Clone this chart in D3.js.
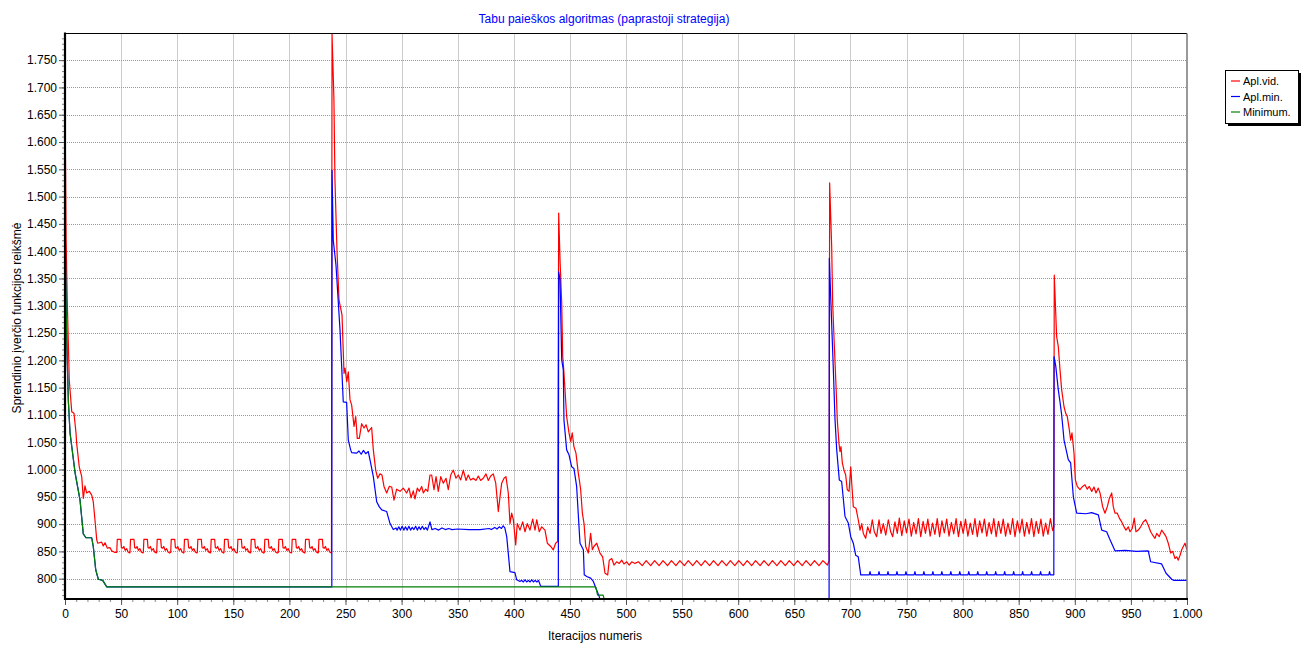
<!DOCTYPE html>
<html><head><meta charset="utf-8">
<script src="https://cdn.jsdelivr.net/npm/d3@7"></script>
<style>body{margin:0;background:#fff}svg{display:block}text{font-family:"Liberation Sans",Arial,sans-serif}</style>
</head><body><svg id="c" width="1305" height="646"></svg>
<script>
const title = "Tabu paieškos algoritmas (paprastoji strategija)";
const xLabel = "Iteracijos numeris";
const yLabel = "Sprendinio įverčio funkcijos reikšmė";
const seriesNames = ["Apl.vid.", "Apl.min.", "Minimum."];
const xTickValues = [0,50,100,150,200,250,300,350,400,450,500,550,600,650,700,750,800,850,900,950,1000];
const yTickValues = [800,850,900,950,1000,1050,1100,1150,1200,1250,1300,1350,1400,1450,1500,1550,1600,1650,1700,1750];

// Minimum.
const greenData = [[0,1450],[1,1300],[2,1200],[3,1125],[4.5,1067],[9,994],[13.4,944],[16.3,882],[18.7,875],[23.8,875],[25.2,859],[27.4,816],[29.7,799],[33.6,797],[37.2,785],[473,785],[474.7,770],[479.6,770],[482,752],[1000,752]];

// Apl.min.
const blue1 = [[0,1450],[1,1300],[2,1200],[3,1125],[4.5,1067],[9,994],[13.4,944],[16.3,882],[18.7,875],[23.8,875],[25.2,859],[27.4,816],[29.7,799],[33.6,797],[37.2,785],[237.8,785]];
const blue2 = [[238,1548],[239.1,1420],[241.5,1375],[245.1,1256],[246.6,1189],[248,1124],[251,1123],[252.5,1054],[254.6,1036],[255.5,1031],[260,1030],[262,1034],[264,1028],[266,1035],[268,1029],[270.3,1033],[271.8,1018],[274.8,987],[277.8,941],[280,932],[282.3,926],[286.7,923],[289.7,901],[292.6,890],[295,893],[296,889],[297.5,895],[299,889],[300.5,896],[302,889],[303.5,895],[305,889],[306.5,896],[308,889],[309.5,894],[311,890],[312.5,896],[314,889],[315.5,895],[317,890],[318.5,896],[320,890],[321.5,894],[323,889],[325.3,904],[327,890],[330,892],[333,889],[336,893],[339,890],[342,892],[345,890],[350,891],[360,890],[370,890],[378,892],[380,890],[383,894],[385,891],[387,895],[389,892],[390.5,897],[392,893],[393.7,877],[396.6,813],[401,811],[402.6,798],[405.5,795],[407,797],[408.5,794],[410,798],[411.5,794],[413,797],[414.5,794],[416,798],[417.5,794],[419,797],[420.5,794],[422,797],[424,786],[439.7,786]];
const blue3 = [[440,1362],[441.2,1348],[442.7,1201],[444.1,1183],[444.7,1091],[447.1,1036],[449.2,1027],[451.6,1005],[453.6,1002],[456,969],[459,865],[462,853],[462.8,807],[465,804],[468.5,801],[470.9,795],[473.3,782],[476,768],[478,755],[681,755]];
const blue4 = [[681.2,1387],[683.3,1268],[684.8,1183],[686.3,1091],[687.8,1036],[690.1,981],[692.2,978],[695.2,914],[698.1,902],[700.3,877],[702.6,865],[704.7,843],[707,840],[709.2,807],
[716.8,807],[717.5,813],[718.2,807],[724.8,807],[725.5,813],[726.2,807],[732.8,807],[733.5,813],[734.2,807],[740.8,807],[741.5,813],[742.2,807],[748.8,807],[749.5,813],[750.2,807],[756.8,807],[757.5,813],[758.2,807],[764.8,807],[765.5,813],[766.2,807],[772.8,807],[773.5,813],[774.2,807],[780.8,807],[781.5,813],[782.2,807],[788.8,807],[789.5,813],[790.2,807],[796.8,807],[797.5,813],[798.2,807],[804.8,807],[805.5,813],[806.2,807],[812.8,807],[813.5,813],[814.2,807],[820.8,807],[821.5,813],[822.2,807],[828.8,807],[829.5,813],[830.2,807],[836.8,807],[837.5,813],[838.2,807],[844.8,807],[845.5,813],[846.2,807],[852.8,807],[853.5,813],[854.2,807],[860.8,807],[861.5,813],[862.2,807],[868.8,807],[869.5,813],[870.2,807],[876.8,807],[877.5,813],[878.2,807],[881.3,807]];
const blue5 = [[881.5,1207],[883,1190],[885.3,1146],[886.8,1124],[888.3,1100],[890.4,1054],[894.2,1018],[896.3,1012],[898.7,950],[901.7,920],[910,919],[915,921],[921,917],[924,889],[928.4,886],[930.8,874],[935.8,851],[945,852],[955,850],[965.5,851],[967.6,831],[977.4,827],[981.3,810],[986.4,799],[988,797],[1000,797]];

// Apl.vid.
const red1 = [[0,1660],[0.5,1550],[1,1420],[2,1310],[3,1230],[3.8,1164],[6,1106],[8,1103],[9.8,1067],[10.4,1048],[12.7,1005],[14.9,987],[16.3,947],[17.8,970],[19.3,957],[21.7,960],[23.8,953],[25.2,941],[26.7,908],[28.3,871],[29.1,865],[32.7,867],[34.1,860],[35.7,866],[37.7,856],[40.1,857],[41.6,851],[44.6,848]];
const red2 = [
[46.1,848],[46.6,872],[49.7,872],[50.3,857],[51.5,856],[52.4,859],[53.6,852],[55,855],[56.2,849],[57.7,847],
[57.9,848],[58.4,872],[61.5,872],[62.1,857],[63.3,856],[64.2,859],[65.4,852],[66.8,855],[68,849],[69.5,847],
[69.8,848],[70.3,872],[73.4,872],[74,857],[75.2,856],[76.1,859],[77.3,852],[78.7,855],[79.9,849],[81.4,847],
[81.7,848],[82.2,872],[85.3,872],[85.9,857],[87.1,856],[88,859],[89.2,852],[90.6,855],[91.8,849],[93.3,847],
[94.2,848],[94.7,872],[97.8,872],[98.4,857],[99.6,856],[100.5,859],[101.7,852],[103.1,855],[104.3,849],[105.8,847],
[106,848],[106.5,872],[109.6,872],[110.2,857],[111.4,856],[112.3,859],[113.5,852],[114.9,855],[116.1,849],[117.6,847],
[117.9,848],[118.4,872],[121.5,872],[122.1,857],[123.3,856],[124.2,859],[125.4,852],[126.8,855],[128,849],[129.5,847],
[129.8,848],[130.3,872],[133.4,872],[134,857],[135.2,856],[136.1,859],[137.3,852],[138.7,855],[139.9,849],[141.4,847],
[141.7,848],[142.2,872],[145.3,872],[145.9,857],[147.1,856],[148,859],[149.2,852],[150.6,855],[151.8,849],[153.3,847],
[153.6,848],[154.1,872],[157.2,872],[157.8,857],[159,856],[159.9,859],[161.1,852],[162.5,855],[163.7,849],[165.2,847],
[165.5,848],[166,872],[169.1,872],[169.7,857],[170.9,856],[171.8,859],[173,852],[174.4,855],[175.6,849],[177.1,847],
[177.6,848],[178.1,872],[181.2,872],[181.8,857],[183,856],[183.9,859],[185.1,852],[186.5,855],[187.7,849],[189.2,847],
[190.1,848],[190.6,872],[193.7,872],[194.3,857],[195.5,856],[196.4,859],[197.6,852],[199,855],[200.2,849],[201.7,847],
[202,848],[202.5,872],[205.6,872],[206.2,857],[207.4,856],[208.3,859],[209.5,852],[210.9,855],[212.1,849],[213.6,847],
[213.9,848],[214.4,872],[217.5,872],[218.1,857],[219.3,856],[220.2,859],[221.4,852],[222.8,855],[224,849],[225.5,847],
[225.8,848],[226.3,872],[229.4,872],[230,857],[231.2,856],[232.1,859],[233.3,852],[234.7,855],[235.9,849],[237.5,847]];
const red3 = [[238,1798],[239.7,1677],[240.6,1530],[242.4,1402],[244.2,1311],[246.9,1283],[247.8,1228],[248.7,1176],[249.6,1186],[251.1,1161],[252.5,1179],[254,1128],[255.5,1118],[257.6,1079],[259.1,1097],[260.5,1057],[262.3,1057],[264.4,1084],[266.5,1076],[268.3,1082],[270.3,1069],[271.8,1073],[273.3,1077],[274.8,1036],[276.9,999],[278.7,984],[280.7,992],[282.5,990],[284.3,969],[286.7,957],[289,969],[291.2,968],[293.2,944],[295.6,964],[298.6,960],[301.5,966],[304.5,957],[306.6,966],[308.4,948],[310.4,961],[311.9,946],[314,966],[315.8,960],[317.9,969],[319.4,957],[321.5,964],[323.3,960],[325.3,990],[326.8,990],[328.9,963],[330.7,987],[332.7,960],[334.9,987],[337.2,975],[339.6,984],[341.6,963],[343.8,990],[346.1,999],[348.5,984],[350.5,990],[352.7,981],[355,999],[357.4,980],[359.4,990],[361.5,981],[363.9,984],[366.3,980],[368.4,988],[370.5,980],[372.8,984],[375.2,992],[377.3,980],[379.4,988],[381.7,992],[383.9,975],[386.2,923],[387.7,950],[389.2,975],[391.3,984],[393,987],[395.1,957],[396.6,901],[398.1,920],[399.6,908],[401.7,862],[403.1,901],[405.5,889],[407.9,904],[410,886],[412,901],[414.4,889],[416.8,909],[418.9,889],[420.4,908],[422.7,886],[424.9,895],[427.8,889],[429.9,865],[432.9,859],[435.2,853],[437.3,865],[439.1,868]];
const red4 = [[440,1470],[441.2,1384],[442.7,1305],[443.6,1207],[444.7,1177],[447.1,1097],[449.2,1067],[450.7,1051],[452.1,1067],[453.6,1042],[455.4,1030],[457.5,993],[458.4,981],[459.6,963],[461.1,920],[462.6,901],[464.1,859],[466.4,847],[468.5,883],[470,853],[471.4,859],[473.9,865],[476.8,847],[479.2,840],[481.3,810],[483.7,807],[485.1,834],[487.3,837],[489.3,825],[491.7,831],[494,828],[496.2,834],[498.2,827],[500.6,831],[502.9,825],[505.1,831],[508,828],[511,831],
[514.5,824],[518,833],[522,824],[525.5,833],[529.5,824],[533,833],[537,824],[540.5,833],[544.5,824],[548,833],[552,824],[555.5,833],[559.5,824],[563,833],[567,824],[570.5,833],[574.5,824],[578,833],[582,824],[585.5,833],[589.5,824],[593,833],[597,824],[600.5,833],[604.5,824],[608,833],[612,824],[615.5,833],[619.5,824],[623,833],[627,824],[630.5,833],[634.5,824],[638,833],[642,824],[645.5,833],[649.5,824],[653,833],[657,824],[660.5,833],[664.5,824],[668,833],[672,824],[675.5,833],[679.5,825],[681,833]];
const red5 = [[681.5,1525],[683.3,1409],[684.2,1305],[685.6,1231],[687.2,1152],[688.3,1091],[689.8,1048],[690.7,1033],[691.6,1042],[692.8,1012],[694.3,999],[695.8,990],[697.2,963],[698.8,960],[700.3,1005],[701.2,975],[702.6,932],[705,929],[707,908],[708.6,889],[710.1,901],[711.5,883],[713.6,874],[715.4,895],[717.5,883],[719.5,908],[721.3,886],[723.4,877],[725.5,908],[727.3,883],[729.3,901],[731.5,880],[733.8,908],[735.9,886],[737.7,877],[739.7,904],[741.8,883],[743.6,911],
[745.8,879],[748,906],[750,884],[752.2,909],[754.3,878],[756.4,903],[758.5,882],[760.6,910],[762.7,877],[764.8,905],[766.9,883],[769,909],[771.1,878],[773.2,902],[775.3,881],[777.4,910],[779.5,877],[781.6,906],[783.7,884],[785.8,909],[787.9,878],[790,903],[792.1,882],[794.2,910],[796.3,877],[798.4,905],[800.5,883],[802.6,909],[804.7,878],[806.8,902],[808.9,881],[811,910],[813.1,877],[815.2,906],[817.3,884],[819.4,909],[821.5,878],[823.6,903],[825.7,882],[827.8,910],[829.9,877],[832,905],[834.1,883],[836.2,909],[838.3,878],[840.4,902],[842.5,881],[844.6,910],[846.7,877],[848.8,906],[850.9,884],[853,909],[855.1,878],[857.2,903],[859.3,882],[861.4,910],[863.5,877],[865.6,905],[867.7,883],[869.8,909],[871.9,878],[874,902],[876.1,881],[878.2,910],[880.3,888],[881.3,895]];
const red6 = [[881.7,1356],[883.8,1244],[885.3,1225],[886.8,1183],[888.3,1146],[890.4,1115],[891.9,1103],[893.3,1097],[895.1,1073],[896.3,1054],[897.5,1067],[899.3,1030],[900.5,981],[902.2,969],[904.6,963],[907,969],[909.1,972],[911.1,964],[912.9,969],[915.1,960],[917.1,968],[918.9,957],[920.9,966],[922.5,957],[924.8,932],[926.9,920],[929,932],[930.8,947],[932.9,957],[934.3,932],[935.8,920],[937.9,920],[939.7,911],[941.8,904],[943.9,895],[945.6,889],[947.7,895],[949.2,886],[951.2,892],[953,911],[954.5,886],[956.6,889],[958.7,895],[961,904],[963.2,908],[965.5,898],[967.6,886],[969.4,880],[971.5,874],[973,883],[975.3,877],[977.4,889],[979.5,883],[981.3,877],[983.3,865],[985.5,847],[987.3,850],[989.3,837],[990.8,840],[992.2,834],[993.8,843],[995.3,853],[996.7,859],[998.2,865],[1000,853]];

const redData = [].concat(red1, red2, red3, red4, red5, red6);
const blueData = [].concat(blue1, blue2, blue3, blue4, blue5);

const colors = ["#ff0000", "#0000ff", "#008000"];

const svg = d3.select("#c");
const L = 65, R = 1187, T = 33.5, B = 599;
const x = d3.scaleLinear().domain([0, 1000]).range([L, R]);
const y = d3.scaleLinear().domain([762.8, 1798.8]).range([B, T]);

const loc = d3.formatLocale({decimal: ",", thousands: ".", grouping: [3], currency: ["", ""]});
const fmt = loc.format(",d");

svg.append("rect").attr("width", 1305).attr("height", 646).attr("fill", "#fff");

// grid
const grid = svg.append("g").attr("stroke", "#999").attr("stroke-width", 1).attr("stroke-dasharray", "1,1");
grid.selectAll(".gx").data(xTickValues.filter(v => v > 0 && v < 1000)).enter().append("line")
  .attr("x1", d => Math.round(x(d)) + 0.5).attr("x2", d => Math.round(x(d)) + 0.5).attr("y1", T).attr("y2", B);
grid.selectAll(".gy").data(yTickValues).enter().append("line")
  .attr("y1", d => Math.round(y(d)) + 0.5).attr("y2", d => Math.round(y(d)) + 0.5).attr("x1", L).attr("x2", R);

// clip
svg.append("clipPath").attr("id", "clip").append("rect").attr("x", L).attr("y", T).attr("width", R - L).attr("height", B - T);

const line = d3.line().x(d => x(d[0])).y(d => y(d[1]));
const plot = svg.append("g").attr("clip-path", "url(#clip)");
plot.append("path").datum(redData).attr("d", line).attr("fill", "none").attr("stroke", colors[0]).attr("stroke-width", 1.2).attr("stroke-linejoin", "round");
plot.append("path").datum(blueData).attr("d", line).attr("fill", "none").attr("stroke", colors[1]).attr("stroke-width", 1.2).attr("stroke-linejoin", "round");
plot.append("path").datum(greenData).attr("d", line).attr("fill", "none").attr("stroke", colors[2]).attr("stroke-width", 1.2).attr("stroke-linejoin", "round");

// frame
svg.append("line").attr("x1", L).attr("x2", R).attr("y1", T).attr("y2", T).attr("stroke", "#000").attr("stroke-width", 1.2);
svg.append("line").attr("x1", R).attr("x2", R).attr("y1", T).attr("y2", B).attr("stroke", "#777").attr("stroke-width", 1.5);

// axes
const minorX = d3.range(0, 1001, 10);
const minorY = d3.range(770, 1799, 10);
const gxMinor = svg.append("g").attr("transform", `translate(0,${B})`)
  .call(d3.axisBottom(x).tickValues(minorX).tickSize(3).tickFormat(""));
const gx = svg.append("g").attr("transform", `translate(0,${B})`)
  .call(d3.axisBottom(x).tickValues(xTickValues).tickSize(6).tickPadding(4).tickFormat(fmt));
const gyMinor = svg.append("g").attr("transform", `translate(${L},0)`)
  .call(d3.axisLeft(y).tickValues(minorY).tickSize(3).tickFormat(""));
const gy = svg.append("g").attr("transform", `translate(${L},0)`)
  .call(d3.axisLeft(y).tickValues(yTickValues).tickSize(6).tickPadding(2).tickFormat(fmt));
[gx, gxMinor, gy, gyMinor].forEach(g => { g.select(".domain").remove(); g.selectAll("line").attr("stroke", "#555"); });
gxMinor.selectAll("line").attr("stroke", "#888");
gyMinor.selectAll("line").attr("stroke", "#888");
gx.selectAll("text").attr("font-size", 12).attr("fill", "#000").attr("font-family", '"Liberation Sans",Arial,sans-serif');
gy.selectAll("text").attr("font-size", 12).attr("fill", "#000").attr("font-family", '"Liberation Sans",Arial,sans-serif');

svg.append("line").attr("x1", L).attr("x2", L).attr("y1", T - 1).attr("y2", B + 1).attr("stroke", "#000").attr("stroke-width", 2.2);
svg.append("line").attr("x1", L - 1).attr("x2", R + 1).attr("y1", B).attr("y2", B).attr("stroke", "#000").attr("stroke-width", 2.2);

// titles
svg.append("text").attr("x", 604).attr("y", 23).attr("text-anchor", "middle").attr("font-size", 12).attr("fill", "#0000ff").text(title);
svg.append("text").attr("x", 595).attr("y", 640).attr("text-anchor", "middle").attr("font-size", 12).attr("fill", "#000").text(xLabel);
svg.append("text").attr("transform", "translate(21,318) rotate(-90)").attr("text-anchor", "middle").attr("font-size", 12).attr("fill", "#000").text(yLabel);

// legend
const lg = svg.append("g");
lg.append("rect").attr("x", 1228).attr("y", 73).attr("width", 73).attr("height", 53).attr("fill", "#000");
lg.append("rect").attr("x", 1225.5).attr("y", 70.5).attr("width", 73).attr("height", 53).attr("fill", "#fff").attr("stroke", "#000").attr("stroke-width", 1);
seriesNames.forEach((n, i) => {
  const cy = 81 + i * 15.5;
  lg.append("line").attr("x1", 1231).attr("x2", 1240).attr("y1", cy).attr("y2", cy).attr("stroke", colors[i]).attr("stroke-width", 1.2);
  lg.append("text").attr("x", 1243).attr("y", cy + 4).attr("font-size", 11).attr("fill", "#000").text(n);
});
</script></body></html>
